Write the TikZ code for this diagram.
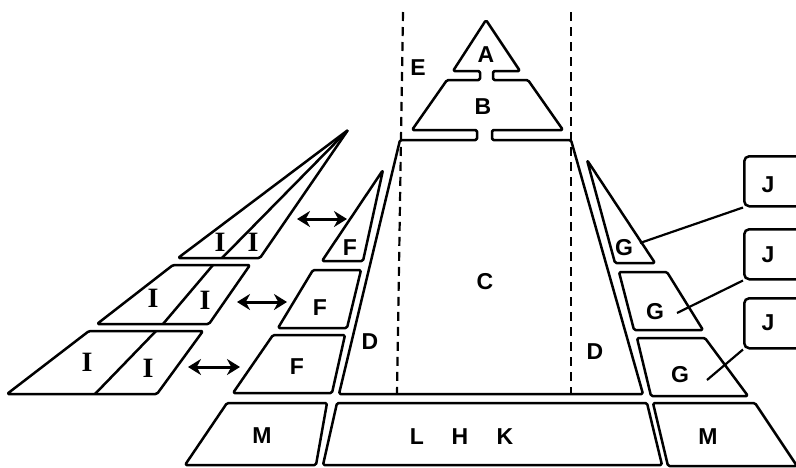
\documentclass[tikz,border=0pt]{standalone}
\usepackage{fontspec}
\setmainfont{Liberation Sans}
\newfontfamily\serifI{Liberation Serif}
\usetikzlibrary{arrows.meta}
\tikzset{
  shapeline/.style={line width=2.5pt, line join=round, rounded corners=1.5pt},
  lbl/.style={font=\bfseries\fontsize{23}{26}\selectfont, inner sep=0pt},
  ilbl/.style={font=\serifI\bfseries\fontsize{28}{30}\selectfont, inner sep=0pt},
  guide/.style={line width=2.2pt, dash pattern=on 9pt off 6pt},
  jbox/.style={draw, line width=2.5pt, rounded corners=5pt, minimum width=60pt, minimum height=50pt, anchor=north west, inner sep=0pt},
  dblarrow/.style={line width=3pt, {Stealth[length=13pt,width=16pt]}-{Stealth[length=13pt,width=16pt]}},
  link/.style={line width=2.2pt}
}
\begin{document}
\begin{tikzpicture}[x=1pt,y=-1pt]
\useasboundingbox (0,0) rectangle (796,467);
\clip (0,0) rectangle (796,467);
% guide lines
\draw[guide] (403,12) -- (397,394);
\draw[guide] (571,12) -- (571,394);
% A-B-C outline
\draw[shapeline] (480,80) -- (447,80) -- (412,130) -- (477,130) -- (477,140) -- (400,140) -- (339,394) -- (643,394) -- (571,140) -- (492,140) -- (492,130) -- (563,130) -- (528,80) -- (493,80) -- (493,71) -- (520,71) -- (486,20) -- (453,71) -- (480,71) -- cycle;
% F column
\draw[shapeline] (383,170) -- (363,261) -- (322,261) -- cycle;
\draw[shapeline] (313,270) -- (361,270) -- (347,328) -- (278,328) -- cycle;
\draw[shapeline] (273,335) -- (345,335) -- (332,393) -- (233,393) -- cycle;
% G column
\draw[shapeline] (587,160) -- (655,263) -- (615,263) -- cycle;
\draw[shapeline] (619,272) -- (667,272) -- (703,330) -- (634,330) -- cycle;
\draw[shapeline] (637,338) -- (705,338) -- (748,396) -- (651,396) -- cycle;
% bottom row
\draw[shapeline] (227,403) -- (327,403) -- (316,465) -- (185,465) -- cycle;
\draw[shapeline] (337,403) -- (647,403) -- (662,465) -- (323,465) -- cycle;
\draw[shapeline] (653,403) -- (755,403) -- (797,466) -- (668,466) -- cycle;
% I wedge
\draw[shapeline] (348,130) -- (178,258) -- (260,258) -- cycle;
\draw[shapeline] (348,130) -- (222,258);
\draw[shapeline] (173,265) -- (250,265) -- (209,324) -- (97,324) -- cycle;
\draw[shapeline] (213,265) -- (163,324);
\draw[shapeline] (89,331) -- (203,331) -- (157,394) -- (7,394) -- cycle;
\draw[shapeline] (156,331) -- (95,394);
% J boxes
\node[jbox] (j1) at (743,155) {};
\node[jbox] (j2) at (743,228) {};
\node[jbox] (j3) at (743,297) {};
% connectors G -> J
\coordinate (g1) at (640,243);
\coordinate (g2) at (677,313);
\coordinate (g3) at (707,380);
\draw[link] (g1) -- (j1.south west);
\draw[link] (g2) -- (j2.south west);
\draw[link] (g3) -- (j3.south west);
% double arrows
\coordinate (a1l) at (297,219); \coordinate (a1r) at (347,219);
\coordinate (a2l) at (237,302); \coordinate (a2r) at (287,302);
\coordinate (a3l) at (188,367); \coordinate (a3r) at (240,367);
\draw[dblarrow] (a1l) -- (a1r);
\draw[dblarrow] (a2l) -- (a2r);
\draw[dblarrow] (a3l) -- (a3r);
% labels
\node[lbl] (lA) at (486,55) {A};
\node[lbl] (lB) at (483,107) {B};
\node[lbl] (lE) at (418,68) {E};
\node[lbl] (lC) at (485,282) {C};
\node[lbl] (lD1) at (370,342) {D};
\node[lbl] (lD2) at (595,352) {D};
\node[lbl] (lF1) at (350,248) {F};
\node[lbl] (lF2) at (320,308) {F};
\node[lbl] (lF3) at (297,367) {F};
\node[lbl] (lG1) at (624,248) {G};
\node[lbl] (lG2) at (655,312) {G};
\node[lbl] (lG3) at (680,375) {G};
\node[lbl] (lJ1) at (768,185) {J};
\node[lbl] (lJ2) at (768,255) {J};
\node[lbl] (lJ3) at (768,323) {J};
\node[lbl] (lM1) at (262,436) {M};
\node[lbl] (lM2) at (708,437) {M};
\node[lbl] (lL) at (417,437) {L};
\node[lbl] (lH) at (460,437) {H};
\node[lbl] (lK) at (505,437) {K};
\node[ilbl] (lI1) at (220,242) {I};
\node[ilbl] (lI2) at (253,242) {I};
\node[ilbl] (lI3) at (153,298) {I};
\node[ilbl] (lI4) at (205,300) {I};
\node[ilbl] (lI5) at (87,362) {I};
\node[ilbl] (lI6) at (148,368) {I};
\end{tikzpicture}
\end{document}
